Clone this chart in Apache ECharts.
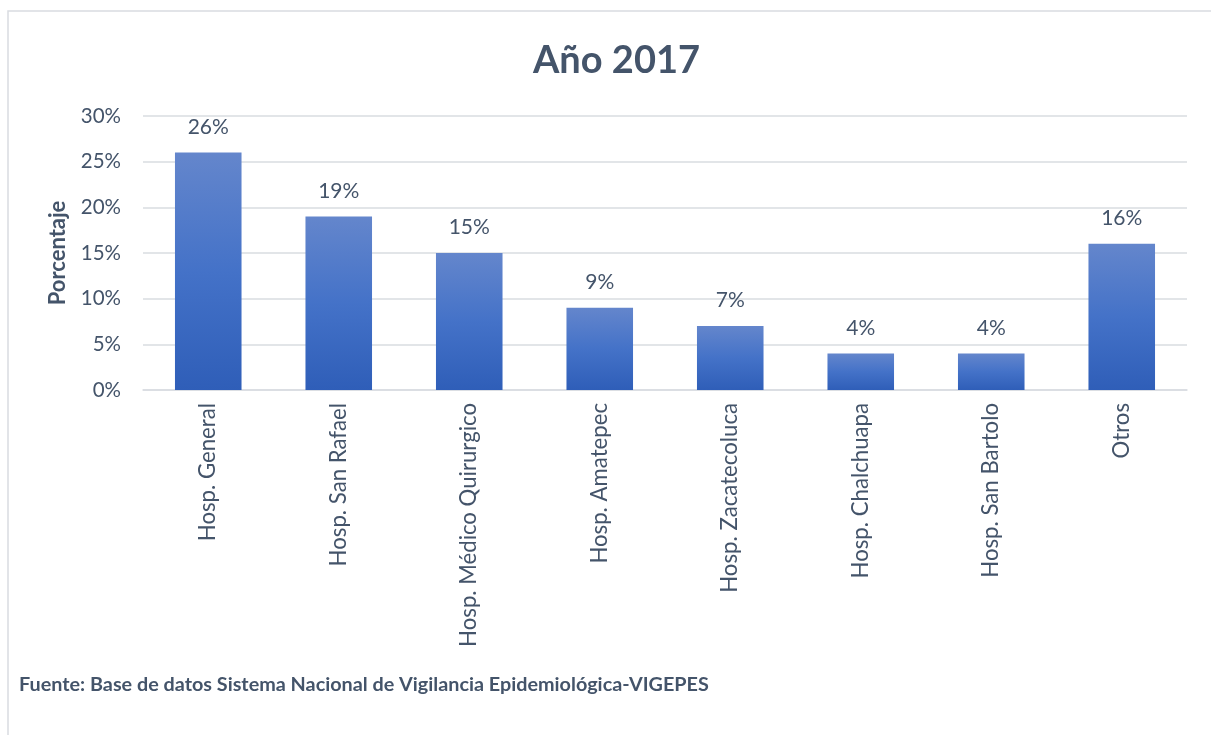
<!DOCTYPE html>
<html>
<head>
<meta charset="utf-8">
<script src="https://cdn.jsdelivr.net/npm/echarts@6/dist/echarts.min.js"></script>
<style>
  html, body { margin: 0; padding: 0; background: #fff; }
  #chart { width: 1211px; height: 735px; }
</style>
</head>
<body>
<div id="chart"></div>
<script>
// datos del grafico
var categorias = ['Hosp. General', 'Hosp. San Rafael', 'Hosp. Médico Quirurgico', 'Hosp. Amatepec',
  'Hosp. Zacatecoluca', 'Hosp. Chalchuapa', 'Hosp. San Bartolo', 'Otros'];
var porcentajes = [26, 19, 15, 9, 7, 4, 4, 16];
var ticksY = [0, 5, 10, 15, 20, 25, 30];

var textColor = '#44546A';
var fuente = 'Lato, "Noto Sans", sans-serif';

var chart = echarts.init(document.getElementById('chart'));

var option = {
  backgroundColor: '#ffffff',
  animation: false,
  title: {
    text: 'Año 2017',
    left: 528,
    top: 37,
    textStyle: { color: textColor, fontSize: 38, fontWeight: 'bold', fontFamily: fuente }
  },
  graphic: [
    {
      type: 'rect',
      shape: { x: 8, y: 11, width: 1230, height: 800 },
      style: { fill: 'none', stroke: '#D9DCE1', lineWidth: 1.5 },
      silent: true
    },
    {
      type: 'text',
      left: 19,
      top: 675,
      style: {
        text: 'Fuente: Base de datos Sistema Nacional de Vigilancia Epidemiológica-VIGEPES',
        fill: textColor,
        font: 'bold 19.8px ' + fuente
      }
    }
  ],
  grid: { left: 143, right: 24, top: 116, bottom: 345 },
  xAxis: {
    type: 'category',
    data: categorias,
    axisTick: { show: false },
    axisLine: { lineStyle: { color: '#D9DCE1', width: 1.5 } },
    axisLabel: {
      rotate: 90,
      interval: 0,
      margin: 13,
      color: textColor,
      fontSize: 22.2,
      fontFamily: fuente
    }
  },
  yAxis: {
    type: 'value',
    min: ticksY[0],
    max: ticksY[ticksY.length - 1],
    interval: 5,
    name: 'Porcentaje',
    nameLocation: 'middle',
    nameGap: 74,
    nameTextStyle: { color: textColor, fontSize: 22, fontWeight: 'bold', fontFamily: fuente },
    axisLine: { show: false },
    axisTick: { show: false },
    splitLine: { lineStyle: { color: '#D9DCE1', width: 1.5 } },
    axisLabel: {
      formatter: '{value}%',
      margin: 22,
      color: textColor,
      fontSize: 20.5,
      fontFamily: fuente
    }
  },
  series: [{
    type: 'bar',
    data: porcentajes,
    barWidth: '51%',
    itemStyle: {
      color: new echarts.graphic.LinearGradient(0, 0, 0, 1, [
        { offset: 0, color: '#6486CC' },
        { offset: 0.5, color: '#4472C8' },
        { offset: 1, color: '#2F5EB8' }
      ])
    },
    label: {
      show: true,
      position: 'top',
      distance: 15,
      formatter: '{c}%',
      color: textColor,
      fontSize: 21,
      fontFamily: fuente
    }
  }]
};

chart.setOption(option);
</script>
</body>
</html>
